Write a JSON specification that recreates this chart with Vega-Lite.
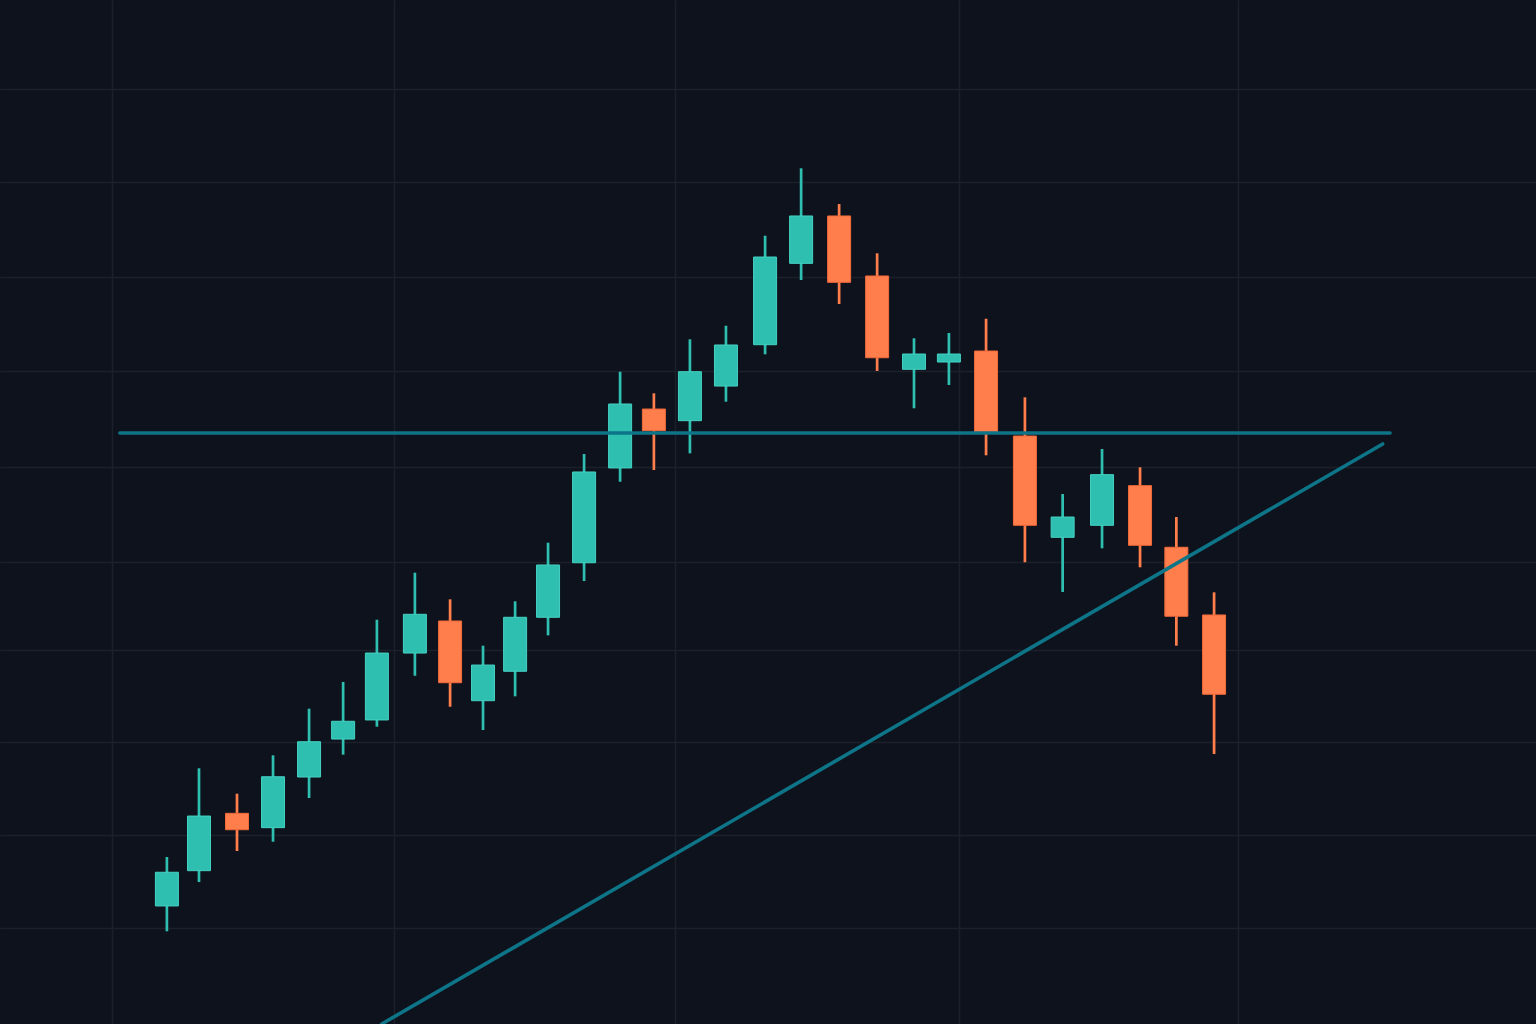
{
  "$schema": "https://vega.github.io/schema/vega-lite/v6.json",
  "width": 1536,
  "height": 1024,
  "autosize": {"type": "fit", "contains": "padding"},
  "padding": 0,
  "background": "#0e121c",
  "config": {
    "view": {"stroke": null},
    "axis": {"grid": true, "gridColor": "#1b202b", "gridWidth": 1.5, "labels": false, "ticks": false, "domain": false, "title": null}
  },
  "datasets": {
    "candles": [
      {"t": 1.95, "open": 12.68, "high": 17.94, "low": 9.96, "close": 16.30},
      {"t": 3.09, "open": 16.47, "high": 27.47, "low": 15.25, "close": 22.34},
      {"t": 4.44, "open": 22.63, "high": 24.74, "low": 18.58, "close": 20.87},
      {"t": 5.72, "open": 21.09, "high": 28.86, "low": 19.58, "close": 26.56},
      {"t": 7.00, "open": 26.53, "high": 33.87, "low": 24.28, "close": 30.32},
      {"t": 8.21, "open": 30.61, "high": 36.74, "low": 28.93, "close": 32.52},
      {"t": 9.41, "open": 32.66, "high": 43.43, "low": 31.94, "close": 39.85},
      {"t": 10.76, "open": 39.85, "high": 48.48, "low": 37.41, "close": 44.01},
      {"t": 12.01, "open": 43.29, "high": 45.62, "low": 34.08, "close": 36.66},
      {"t": 13.18, "open": 34.73, "high": 40.64, "low": 31.58, "close": 38.56},
      {"t": 14.32, "open": 37.89, "high": 45.41, "low": 35.20, "close": 43.69},
      {"t": 15.49, "open": 43.69, "high": 51.70, "low": 41.75, "close": 49.31},
      {"t": 16.77, "open": 49.55, "high": 61.23, "low": 47.59, "close": 59.30},
      {"t": 18.05, "open": 59.73, "high": 70.07, "low": 58.25, "close": 66.60},
      {"t": 19.25, "open": 66.06, "high": 67.75, "low": 59.51, "close": 63.73},
      {"t": 20.53, "open": 64.81, "high": 73.55, "low": 61.30, "close": 70.07},
      {"t": 21.81, "open": 68.53, "high": 75.01, "low": 66.85, "close": 72.94},
      {"t": 23.20, "open": 72.97, "high": 84.68, "low": 71.94, "close": 82.39},
      {"t": 24.48, "open": 81.71, "high": 91.92, "low": 79.92, "close": 86.80},
      {"t": 25.83, "open": 86.80, "high": 88.08, "low": 77.34, "close": 79.67},
      {"t": 27.18, "open": 80.35, "high": 82.79, "low": 70.15, "close": 71.57},
      {"t": 28.49, "open": 70.33, "high": 73.66, "low": 66.14, "close": 71.97},
      {"t": 29.73, "open": 71.11, "high": 74.23, "low": 68.64, "close": 71.97},
      {"t": 31.05, "open": 72.29, "high": 75.76, "low": 61.09, "close": 63.45},
      {"t": 32.43, "open": 63.16, "high": 67.32, "low": 49.60, "close": 53.57},
      {"t": 33.77, "open": 52.28, "high": 56.93, "low": 46.41, "close": 54.46},
      {"t": 35.17, "open": 53.57, "high": 61.77, "low": 51.10, "close": 59.01},
      {"t": 36.52, "open": 57.83, "high": 59.80, "low": 49.06, "close": 51.42},
      {"t": 37.81, "open": 51.21, "high": 54.46, "low": 40.64, "close": 43.80},
      {"t": 39.15, "open": 43.94, "high": 46.37, "low": 29.00, "close": 35.42}
    ],
    "levels": [
      {"name": "resistance", "t1": 0.28, "p1": 63.49, "t2": 45.40, "p2": 63.49},
      {"name": "trend", "t1": 9.58, "p1": 0, "t2": 45.14, "p2": 62.31}
    ]
  },
  "layer": [
    {
      "data": {"name": "candles"},
      "mark": {"type": "rule", "strokeWidth": 2.7},
      "encoding": {
        "x": {"field": "t", "type": "quantitative", "scale": {"domain": [-3.979, 50.586], "nice": false, "zero": false, "padding": 0}, "axis": {"values": [0, 10, 20, 30.1, 40]}},
        "y": {"field": "low", "type": "quantitative", "scale": {"domain": [0, 110], "nice": false, "zero": false, "padding": 0}, "axis": {"values": [10.34, 20.30, 30.26, 40.18, 49.68, 59.80, 70.15, 80.24, 90.45, 100.44]}},
        "y2": {"field": "high"},
        "color": {"condition": {"test": "datum.close >= datum.open", "value": "#2fbfb1"}, "value": "#ff7e4b"}
      }
    },
    {
      "data": {"name": "candles"},
      "mark": {"type": "bar", "size": 23, "strokeWidth": 1},
      "encoding": {
        "x": {"field": "t", "type": "quantitative"},
        "y": {"field": "open", "type": "quantitative"},
        "y2": {"field": "close"},
        "fill": {"condition": {"test": "datum.close >= datum.open", "value": "#2fbfb1"}, "value": "#ff7e4b"},
        "stroke": {"condition": {"test": "datum.close >= datum.open", "value": "#45d2c3"}, "value": "#f26a3a"}
      }
    },
    {
      "data": {"name": "levels"},
      "mark": {"type": "rule", "color": "#0e7488", "strokeWidth": 3.6, "strokeCap": "round", "clip": true},
      "encoding": {
        "x": {"field": "t1", "type": "quantitative"},
        "x2": {"field": "t2"},
        "y": {"field": "p1", "type": "quantitative"},
        "y2": {"field": "p2"}
      }
    }
  ]
}
